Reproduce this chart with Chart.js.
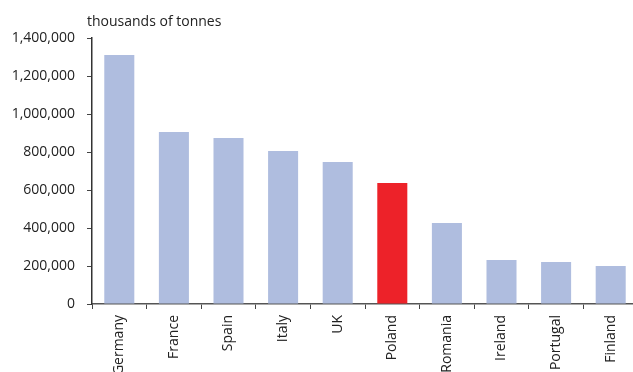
<!DOCTYPE html>
<html>
<head>
<meta charset="utf-8">
<script src="https://cdn.jsdelivr.net/npm/chart.js@4/dist/chart.umd.min.js"></script>
<style>
  html, body { margin: 0; padding: 0; background: #fff; overflow: hidden; width: 633px; height: 372px; }
  #wrap { position: absolute; left: 0; top: 0; width: 638px; height: 390px; }
</style>
</head>
<body>
<div id="wrap"><canvas id="c" width="638" height="390"></canvas></div>
<script>
const categories = ["Germany", "France", "Spain", "Italy", "UK", "Poland", "Romania", "Ireland", "Portugal", "Finland"];
const values = [1310000, 905000, 874000, 805000, 747000, 637000, 426000, 232000, 221000, 200000];
const highlight = "Poland";
const unitLabel = "thousands of tonnes";
const yMax = 1400000;
const yStep = 200000;

const barColors = categories.map(c => c === highlight ? "#ED2229" : "#AFBDDF");

const unitPlugin = {
  id: "unitLabel",
  afterDraw(chart) {
    const ctx = chart.ctx;
    const a = chart.chartArea;
    ctx.save();
    ctx.font = "14px 'Open Sans'";
    ctx.fillStyle = "#222";
    ctx.textAlign = "left";
    ctx.textBaseline = "middle";
    ctx.fillText(unitLabel, a.left - 5, a.top - 16);
    ctx.restore();
  }
};

new Chart(document.getElementById("c"), {
  type: "bar",
  data: {
    labels: categories,
    datasets: [{
      data: values,
      backgroundColor: barColors,
      borderWidth: 0,
      barPercentage: 0.55,
      categoryPercentage: 1.0
    }]
  },
  options: {
    responsive: false,
    animation: false,
    layout: { padding: { top: 38, right: 0, left: 0, bottom: 0 } },
    plugins: { legend: { display: false }, tooltip: { enabled: false } },
    scales: {
      x: {
        offset: true,
        grid: { display: true, offset: true, drawOnChartArea: false, drawTicks: true, tickLength: 5, color: "#444", lineWidth: 1 },
        border: { display: true, color: "#555", width: 1.5 },
        ticks: { color: "#222", font: { family: "'Open Sans'", size: 14 }, minRotation: 90, maxRotation: 90, autoSkip: false, padding: 6 },
        afterFit(scale) { scale.height = 86; }
      },
      y: {
        min: 0, max: yMax,
        grid: { display: true, drawOnChartArea: false, drawTicks: true, tickLength: 5, color: "#444", lineWidth: 1 },
        border: { display: true, color: "#333", width: 1.5 },
        ticks: {
          stepSize: yStep, color: "#222", font: { family: "'Open Sans'", size: 14 }, padding: 12,
          callback: v => v.toLocaleString("en-US")
        },
        afterFit(scale) { scale.width = 92; }
      }
    }
  },
  plugins: [unitPlugin]
});
</script>
</body>
</html>
